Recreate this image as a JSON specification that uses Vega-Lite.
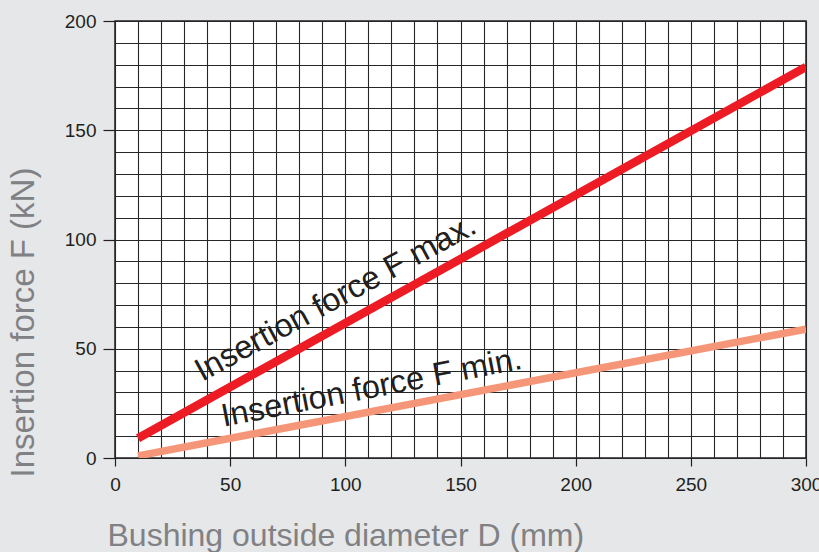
{
  "$schema": "https://vega.github.io/schema/vega-lite/v6.json",
  "width": 691,
  "height": 437,
  "autosize": {"type": "none"},
  "padding": {"left": 115, "top": 21, "right": 13, "bottom": 94},
  "background": "#e6e7e8",
  "config": {
    "view": {"fill": "white", "stroke": "#231f20", "strokeWidth": 1.5},
    "font": "Liberation Sans"
  },
  "datasets": {
    "lines": [
      {"series": "max", "D": 10, "F": 9},
      {"series": "max", "D": 300, "F": 179},
      {"series": "min", "D": 10, "F": 1},
      {"series": "min", "D": 300, "F": 59}
    ],
    "maxlabel": [{"text": "Insertion force F max.", "D": 97.8, "F": 69.1}],
    "minlabel": [{"text": "Insertion force F min.", "D": 112.2, "F": 27.6}]
  },
  "encoding": {
    "x": {
      "field": "D", "type": "quantitative",
      "scale": {"domain": [0, 300], "nice": false, "zero": false},
      "axis": {
        "values": [0,10,20,30,40,50,60,70,80,90,100,110,120,130,140,150,160,170,180,190,200,210,220,230,240,250,260,270,280,290,300],
        "labelExpr": "datum.value % 50 === 0 ? datum.label : ''",
        "grid": true, "gridColor": "#262626", "gridWidth": 1.1,
        "tickSize": 8, "tickColor": "#231f20", "tickWidth": 1.2,
        "tickOpacity": {"condition": {"test": "datum.value % 50 === 0", "value": 1}, "value": 0},
        "domain": false,
        "labelFontSize": 19, "labelColor": "#231f20", "labelPadding": 9,
        "labelFlush": false, "labelOverlap": false,
        "title": "Bushing outside diameter D (mm)",
        "titleFontSize": 32, "titleFontWeight": "normal", "titleColor": "#808184",
        "titleX": -8, "titleY": 87, "titleAlign": "left", "titleBaseline": "alphabetic"
      }
    },
    "y": {
      "field": "F", "type": "quantitative",
      "scale": {"domain": [0, 200], "nice": false},
      "axis": {
        "values": [0,10,20,30,40,50,60,70,80,90,100,110,120,130,140,150,160,170,180,190,200],
        "labelExpr": "datum.value % 50 === 0 ? datum.label : ''",
        "grid": true, "gridColor": "#262626", "gridWidth": 1.1,
        "tickSize": 12, "tickColor": "#231f20", "tickWidth": 1.2,
        "tickOpacity": {"condition": {"test": "datum.value % 50 === 0", "value": 1}, "value": 0},
        "domain": false,
        "labelFontSize": 19, "labelColor": "#231f20", "labelPadding": 7,
        "labelFlush": false, "labelOverlap": false,
        "title": "Insertion force F (kN)",
        "titleFontSize": 33, "titleFontWeight": "normal", "titleColor": "#808184",
        "titleAngle": -90,
        "titleX": -82, "titleY": 456, "titleAlign": "left", "titleBaseline": "alphabetic"
      }
    }
  },
  "layer": [
    {
      "data": {"name": "lines"},
      "transform": [{"filter": "datum.series === 'min'"}],
      "mark": {"type": "line", "color": "#f69679", "strokeWidth": 7.5, "strokeCap": "butt", "clip": true},
      "encoding": {"detail": {"field": "series"}}
    },
    {
      "data": {"name": "lines"},
      "transform": [{"filter": "datum.series === 'max'"}],
      "mark": {"type": "line", "color": "#ed1c24", "strokeWidth": 8.5, "strokeCap": "butt", "clip": true},
      "encoding": {"detail": {"field": "series"}}
    },
    {
      "data": {"name": "maxlabel"},
      "mark": {"type": "text", "font": "Liberation Sans", "fontSize": 32.5, "angle": 331.5, "align": "center", "baseline": "alphabetic", "color": "#231f20"},
      "encoding": {"text": {"field": "text"}}
    },
    {
      "data": {"name": "minlabel"},
      "mark": {"type": "text", "font": "Liberation Sans", "fontSize": 32.5, "angle": 349, "align": "center", "baseline": "alphabetic", "color": "#231f20"},
      "encoding": {"text": {"field": "text"}}
    }
  ]
}
